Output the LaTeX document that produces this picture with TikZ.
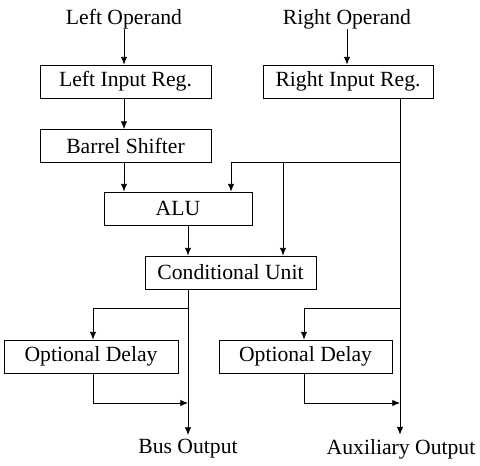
\documentclass[tikz,border=0pt]{standalone}
\usepackage{fontspec}
\setmainfont{Liberation Serif}
\usepackage{tikz}
\usetikzlibrary{arrows.meta}

\tikzset{
	blk/.style={draw, shape=rectangle, minimum height=0.825cm, inner sep=0pt, line width=0.6pt},
	lbl/.style={inner sep=0pt},
	wire/.style={line width=0.6pt},
	>={Latex[length=5.5pt, width=4.6pt]},
}

\begin{document}
\begin{tikzpicture}[x=0.025cm, y=-0.025cm, font=\fontsize{15.4}{18}\selectfont]
			\useasboundingbox (0, 0) rectangle (480, 466);
			% Inputs and blocks:
			\node[lbl](LO) at (124, 19){Left Operand};
			\node[lbl](RO) at (347, 19){Right Operand};
			\node[blk, minimum width=4.275cm](LIR) at (125.5, 81.5){Left Input Reg.};
			\node[blk, minimum width=4.25cm](RIR) at (348, 81.5){Right Input Reg.};
			\node[blk, minimum width=4.275cm](BS) at (125.5, 146){Barrel Shifter};
			\node[blk, minimum width=3.7cm](ALU) at (178, 208.5){ALU};
			\node[blk, minimum width=4.275cm](CU) at (230.5, 272.5){Conditional Unit};
			\node[blk, minimum width=4.35cm](OD1) at (91, 356.5){Optional Delay};
			\node[blk, minimum width=4.325cm](OD2) at (305.5, 356.5){Optional Delay};
			\node[lbl](BUS) at (188, 449){Bus Output};
			\node[lbl](AUX) at (401, 449){Auxiliary Output};
			% Junctions:
			\coordinate (rtap) at (400, 162);
			\coordinate (alux) at (231, 162);
			\coordinate (cux) at (283, 162);
			\coordinate (btap) at (188, 308);
			\coordinate (atap) at (400, 308);
			\coordinate (d1x) at (93, 308);
			\coordinate (d2x) at (304, 308);
			\coordinate (bjoin) at (188, 403);
			\coordinate (ajoin) at (400, 403);
			% Wires:
			\draw[wire, ->] (LO.south -| 124, 0) -- (LIR.north -| LO);
			\draw[wire, ->] (LIR.south -| LO) -- (BS.north -| LO);
			\draw[wire, ->] (BS.south -| LO) -- (ALU.north -| LO);
			\draw[wire, ->] (RO.south) -- (RIR.north -| RO);
			\draw[wire, ->] (RIR.south -| rtap) -- ([yshift=3pt]AUX.north -| rtap);
			\draw[wire, ->] (rtap) -- (alux) -- (ALU.north -| alux);
			\draw[wire, ->] (cux) -- (CU.north -| cux);
			\draw[wire, ->] (ALU.south -| btap) -- (CU.north -| btap);
			\draw[wire, ->] (CU.south -| btap) -- ([yshift=3pt]BUS.north -| btap);
			\draw[wire, ->] (btap) -- (d1x) -- (OD1.north -| d1x);
			\draw[wire, ->] (OD1.south -| d1x) |- (bjoin);
			\draw[wire, ->] (atap) -- (d2x) -- (OD2.north -| d2x);
			\draw[wire, ->] (OD2.south -| d2x) |- (ajoin);
		\end{tikzpicture}
\end{document}
